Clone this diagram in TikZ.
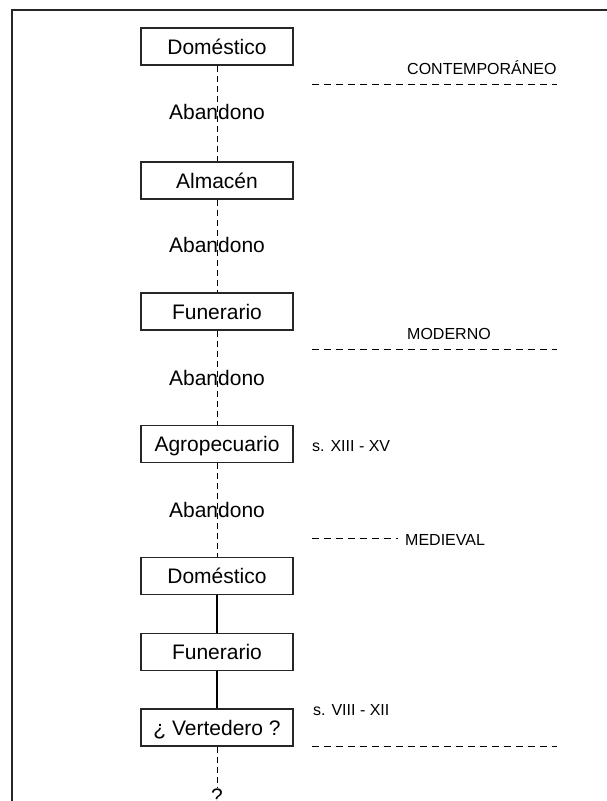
\documentclass[tikz,border=0pt]{standalone}
\usepackage{fontspec}
\setmainfont{Liberation Sans}
\begin{document}
\begin{tikzpicture}[x=1pt,y=-1pt,
    etapa/.style={draw=black!85,line width=1.1pt,minimum width=152pt,minimum height=37pt,
      inner sep=0pt,text height=15pt,text depth=0pt,font=\fontsize{21}{25}\selectfont},
    rotulo/.style={inner sep=0pt,font=\fontsize{21}{25}\selectfont},
    periodo/.style={inner sep=0pt,anchor=base west,font=\fontsize{16}{19}\selectfont},
    enlace/.style={line width=1pt,dash pattern=on 6pt off 4pt},
    continuo/.style={line width=2pt},
    limite/.style={line width=1pt,dash pattern=on 7pt off 5pt}]
  \useasboundingbox (0,0) rectangle (607,801);

  % Drawing frame
  \draw [line width=2pt,black!85] (11.5,801) -- (11.5,9.5) -- (607,9.5);%

  % Marking stages
  \node [etapa] (dom1) at (217,46.5) {Doméstico};%
  \node [etapa] (alm) at (217,180.5) {Almacén};%
  \node [etapa] (fun1) at (217,311.5) {Funerario};%
  \node [etapa] (agro) at (217,444) {Agropecuario};%
  \node [etapa] (dom2) at (217,576) {Doméstico};%
  \node [etapa] (fun2) at (217,652) {Funerario};%
  \node [etapa] (vert) at (217,727.5) {¿ Vertedero ?};%
  \node [rotulo,anchor=base] (interrog) at (217,803) {?};%

  % Drawing dashed links
  \draw [enlace] (dom1.south) -- (alm.north);%
  \draw [enlace] (alm.south) -- (fun1.north);%
  \draw [enlace] (fun1.south) -- (agro.north);%
  \draw [enlace] (agro.south) -- (dom2.north);%
  \draw [enlace] (vert.south) -- (interrog.north);%

  % Drawing solid links
  \draw [continuo] (dom2.south) -- (fun2.north);%
  \draw [continuo] (fun2.south) -- (vert.north);%

  % Marking point {Abandono}
  \node [rotulo] (ab1) at (217,112) {Abandono};%
  \node [rotulo] (ab2) at (217,245) {Abandono};%
  \node [rotulo] (ab3) at (217,378) {Abandono};%
  \node [rotulo] (ab4) at (217,510) {Abandono};%

  % Drawing period limits
  \coordinate (lc1) at (312,84);
  \coordinate (lc2) at (557,84);
  \draw [limite] (lc1) -- (lc2);%
  \coordinate (lm1) at (312,349);
  \coordinate (lm2) at (557,349);
  \draw [limite] (lm1) -- (lm2);%
  \coordinate (lmd1) at (312,538);
  \coordinate (lmd2) at (398,538);
  \draw [limite] (lmd1) -- (lmd2);%
  \coordinate (lf1) at (312,746.5);
  \coordinate (lf2) at (557,746.5);
  \draw [limite] (lf1) -- (lf2);%

  % Marking periods
  \node [periodo] (contemp) at (407,74) {CONTEMPORÁNEO};%
  \node [periodo] (moderno) at (407,339) {MODERNO};%
  \node [periodo] (medieval) at (405,545) {MEDIEVAL};%
  \node [periodo] (siglo1) at (312,451) {s. XIII - XV};%
  \node [periodo] (siglo2) at (313,715) {s. VIII - XII};%
\end{tikzpicture}
\end{document}
